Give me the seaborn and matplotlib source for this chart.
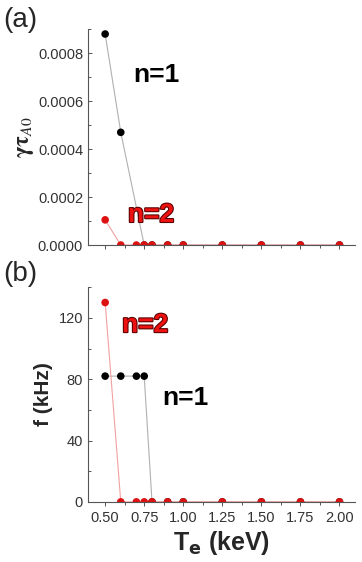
import numpy as np
import pandas as pd
import matplotlib.pyplot as plt
import seaborn as sns
from matplotlib.ticker import MultipleLocator, FormatStrFormatter
import matplotlib.patheffects as pe

sns.set_style("white")
plt.rcParams['font.family'] = ['Liberation Sans', 'DejaVu Sans']

# data
te_n1_a = [0.5, 0.6, 0.75, 0.8, 0.9, 1.0, 1.25, 1.5, 1.75, 2.0]
gamma_n1 = [0.00088, 0.00047, 0, 0, 0, 0, 0, 0, 0, 0]
te_n2 = [0.5, 0.6, 0.7, 0.75, 0.8, 0.9, 1.0, 1.25, 1.5, 1.75, 2.0]
gamma_n2 = [0.000105, 0, 0, 0, 0, 0, 0, 0, 0, 0, 0]
te_n1_b = [0.5, 0.6, 0.7, 0.75, 0.8, 0.9, 1.0, 1.25, 1.5, 1.75, 2.0]
freq_n1 = [82, 82, 82, 82, 0, 0, 0, 0, 0, 0, 0]
freq_n2 = [130, 0, 0, 0, 0, 0, 0, 0, 0, 0, 0]

fig = plt.figure(figsize=(3.62, 5.62), dpi=100)
ax1 = fig.add_axes([0.243, 0.564, 0.738, 0.384])
ax2 = fig.add_axes([0.243, 0.107, 0.738, 0.382])

def draw(ax, x, y, col, lcol):
    sns.lineplot(x=x, y=y, ax=ax, color=lcol, linewidth=0.8, zorder=2)
    sns.scatterplot(x=x, y=y, ax=ax, color=col, s=30, edgecolor='none', zorder=3)

draw(ax1, te_n1_a, gamma_n1, 'black', '#b0b0b0')
draw(ax1, te_n2, gamma_n2, '#dd1111', '#f2a0a0')
draw(ax2, te_n1_b, freq_n1, 'black', '#b0b0b0')
draw(ax2, te_n2, freq_n2, '#dd1111', '#f2a0a0')

for ax in (ax1, ax2):
    ax.set_xlim(0.39, 2.1)
    ax.xaxis.set_major_locator(MultipleLocator(0.25))
    ax.xaxis.set_minor_locator(MultipleLocator(0.125))
    ax.xaxis.set_major_formatter(FormatStrFormatter('%.2f'))
    for s in ('top', 'right'):
        ax.spines[s].set_visible(False)
    for s in ('left', 'bottom'):
        ax.spines[s].set_color('#555555')
        ax.spines[s].set_linewidth(0.8)
        ax.spines[s].set_zorder(4)
    ax.tick_params(which='both', bottom=True, left=True, colors='#555555',
                   labelcolor='#333333', labelsize=10.5, width=0.7)
    ax.tick_params(which='major', length=3)
    ax.tick_params(which='minor', length=2)
    ax.tick_params(axis='y', which='both', direction='in')

ax1.set_ylim(0, 0.0009)
ax1.yaxis.set_major_locator(MultipleLocator(0.0002))
ax1.yaxis.set_minor_locator(MultipleLocator(0.0001))
ax1.yaxis.set_major_formatter(FormatStrFormatter('%.4f'))
ax1.tick_params(axis='x', labelbottom=False)
ax1.set_xlabel('')
ax1.set_ylabel(r'$\mathbf{\gamma\tau}_{\mathit{A0}}$', fontsize=16, labelpad=1,
               math_fontfamily='stix')

ax2.set_ylim(0, 140)
ax2.yaxis.set_major_locator(MultipleLocator(40))
ax2.yaxis.set_minor_locator(MultipleLocator(20))
ax2.set_ylabel('f (kHz)', fontsize=15, fontweight='bold', labelpad=4)
ax2.set_xlabel(r'T$_\mathbf{e}$ (keV)', fontsize=18, fontweight='bold', labelpad=3,
               math_fontfamily='dejavusans')

outline = [pe.withStroke(linewidth=1.5, foreground='#550000')]
ax1.text(0.678, 0.00068, 'n=1', fontsize=19, fontweight='bold', color='black')
ax1.text(0.646, 0.000096, 'n=2', fontsize=19, fontweight='bold', color='#ee1111',
         path_effects=outline)
ax2.text(0.608, 110.7, 'n=2', fontsize=19, fontweight='bold', color='#ee1111',
         path_effects=outline)
ax2.text(0.864, 63, 'n=1', fontsize=19, fontweight='bold', color='black')

fig.text(0.01, 0.988, '(a)', fontsize=20, va='top')
fig.text(0.01, 0.536, '(b)', fontsize=20, va='top')

fig.savefig('out.png', dpi=100)
